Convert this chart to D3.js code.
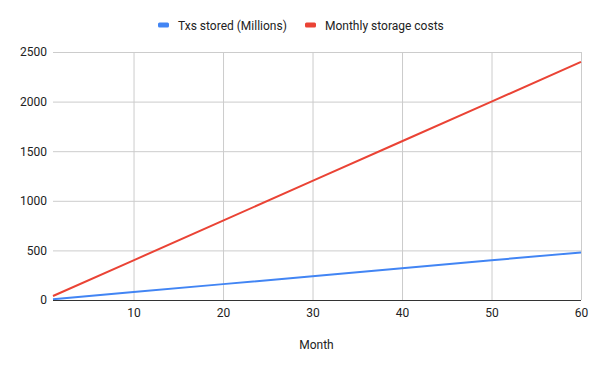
<!DOCTYPE html>
<html>
<head>
<meta charset="utf-8">
<script src="https://cdn.jsdelivr.net/npm/d3@7"></script>
<style>
  body { margin: 0; padding: 0; background: #fff; }
  text { font-family: Roboto, Arial, sans-serif; }
</style>
</head>
<body>
<div id="main"></div>
<script>
// values
const months = [1, 10, 20, 30, 40, 50, 60];
const txsStored = [8, 80, 160, 240, 320, 400, 480];
const storageCosts = [40, 400, 800, 1200, 1600, 2000, 2400];
const xTicks = [10, 20, 30, 40, 50, 60];
const yTicks = [0, 500, 1000, 1500, 2000, 2500];
const seriesNames = ['Txs stored (Millions)', 'Monthly storage costs'];
const seriesColours = ['#4285f4', '#ea4335'];

const WIDTH = 600, HEIGHT = 371;
const PLOT = {left: 53, right: 581, top: 52, bottom: 300};

const svg = d3.select('#main').append('svg').attr('width', WIDTH).attr('height', HEIGHT);

const scaleX = d3.scaleLinear().domain([1, 60]).range([PLOT.left, PLOT.right]);
const scaleY = d3.scaleLinear().domain([0, 2500]).range([PLOT.bottom, PLOT.top]);

// gridlines
svg.append('g').selectAll('line').data(yTicks.slice(1)).enter().append('line')
    .attr('x1', PLOT.left).attr('x2', PLOT.right)
    .attr('y1', (d) => scaleY(d) + 0.5).attr('y2', (d) => scaleY(d) + 0.5)
    .attr('stroke', '#cccccc').attr('stroke-width', 1);
svg.append('g').selectAll('line').data(xTicks).enter().append('line')
    .attr('x1', (d) => scaleX(d) + 0.5).attr('x2', (d) => scaleX(d) + 0.5)
    .attr('y1', PLOT.top).attr('y2', PLOT.bottom)
    .attr('stroke', '#cccccc').attr('stroke-width', 1);

// y axis labels
const axisY = d3.axisLeft(scaleY).tickValues(yTicks).tickFormat(d3.format('d')).tickSize(0).tickPadding(6);
const gY = svg.append('g').attr('transform', `translate(${PLOT.left}, 0)`).call(axisY);
gY.select('.domain').remove();
gY.selectAll('text').attr('font-size', 12).attr('fill', '#222').attr('font-family', 'Roboto, Arial, sans-serif');

// x axis labels
const axisX = d3.axisBottom(scaleX).tickValues(xTicks).tickFormat(d3.format('d')).tickSize(0).tickPadding(8);
const gX = svg.append('g').attr('transform', `translate(0, ${PLOT.bottom})`).call(axisX);
gX.select('.domain').remove();
gX.selectAll('text').attr('font-size', 12).attr('fill', '#222').attr('font-family', 'Roboto, Arial, sans-serif');

// lines
const series = [txsStored, storageCosts];
const line = d3.line().x((d, i) => scaleX(months[i])).y((d) => scaleY(d));
series.forEach((values, k) => {
    svg.append('path').datum(values).attr('d', line)
        .attr('fill', 'none').attr('stroke', seriesColours[k]).attr('stroke-width', 2);
});

// baseline
svg.append('line')
    .attr('x1', PLOT.left).attr('x2', PLOT.right)
    .attr('y1', PLOT.bottom + 0.5).attr('y2', PLOT.bottom + 0.5)
    .attr('stroke', '#333').attr('stroke-width', 1);

// axis title
svg.append('text').attr('x', (PLOT.left + PLOT.right) / 2 - 0.5).attr('y', 349)
    .attr('text-anchor', 'middle').attr('font-size', 12).attr('fill', '#222').text('Month');

// legend
const legendX = [158, 305];
seriesNames.forEach((name, k) => {
    const g = svg.append('g').attr('transform', `translate(${legendX[k]}, 25)`);
    g.append('rect').attr('x', 0).attr('y', -2.5).attr('width', 11).attr('height', 5).attr('rx', 1.5)
        .attr('fill', seriesColours[k]);
    g.append('text').attr('x', 20).attr('y', 4.5).attr('font-size', 12).attr('fill', '#222').text(name);
});
</script>
</body>
</html>
